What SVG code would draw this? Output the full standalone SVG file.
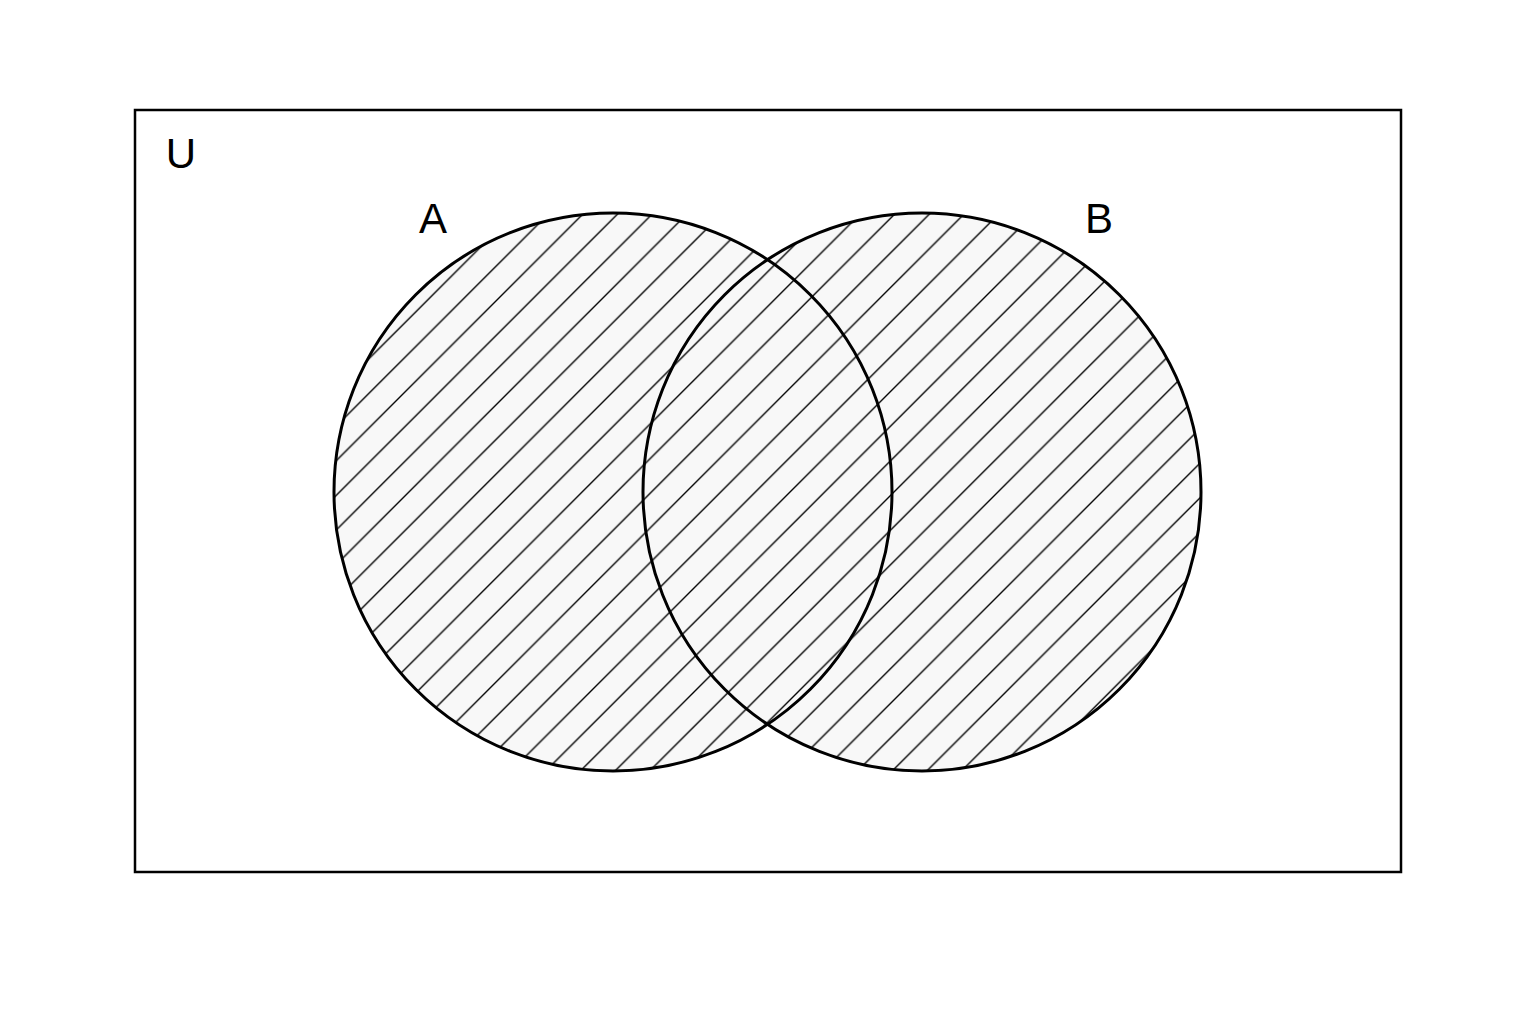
<svg xmlns="http://www.w3.org/2000/svg" width="1536" height="1024" viewBox="0 0 1536 1024">
<style>
.lbl{font-family:"Liberation Sans",Arial,sans-serif;font-size:42px;fill:#000}
.ring{fill:none;stroke:#000;stroke-width:3}
.hatch{stroke:#000;stroke-width:1.4}
</style>
<defs>
<pattern id="diag" patternUnits="userSpaceOnUse" x="0" y="0" width="34.65" height="34.65">
<rect width="34.65" height="34.65" fill="#f8f8f8"/>
<path class="hatch" d="M0,34.65 L34.65,0 M-2,2 L2,-2 M32.65,36.65 L36.65,32.65"/>
</pattern>
</defs>
<rect width="1536" height="1024" fill="#fff"/>
<g id="universe">
<rect x="135" y="110" width="1266" height="762" fill="#fff" stroke="#000" stroke-width="2.5"/>
<text class="lbl" x="181" y="168" text-anchor="middle">U</text>
</g>
<g id="fills">
<circle cx="613" cy="492" r="279" fill="url(#diag)"/>
<circle cx="922" cy="492" r="279" fill="url(#diag)"/>
</g>
<g id="setA">
<circle class="ring" cx="613" cy="492" r="279"/>
<text class="lbl" x="433" y="233" text-anchor="middle">A</text>
</g>
<g id="setB">
<circle class="ring" cx="922" cy="492" r="279"/>
<text class="lbl" x="1099" y="233" text-anchor="middle">B</text>
</g>
<g id="connectors"></g>
</svg>
